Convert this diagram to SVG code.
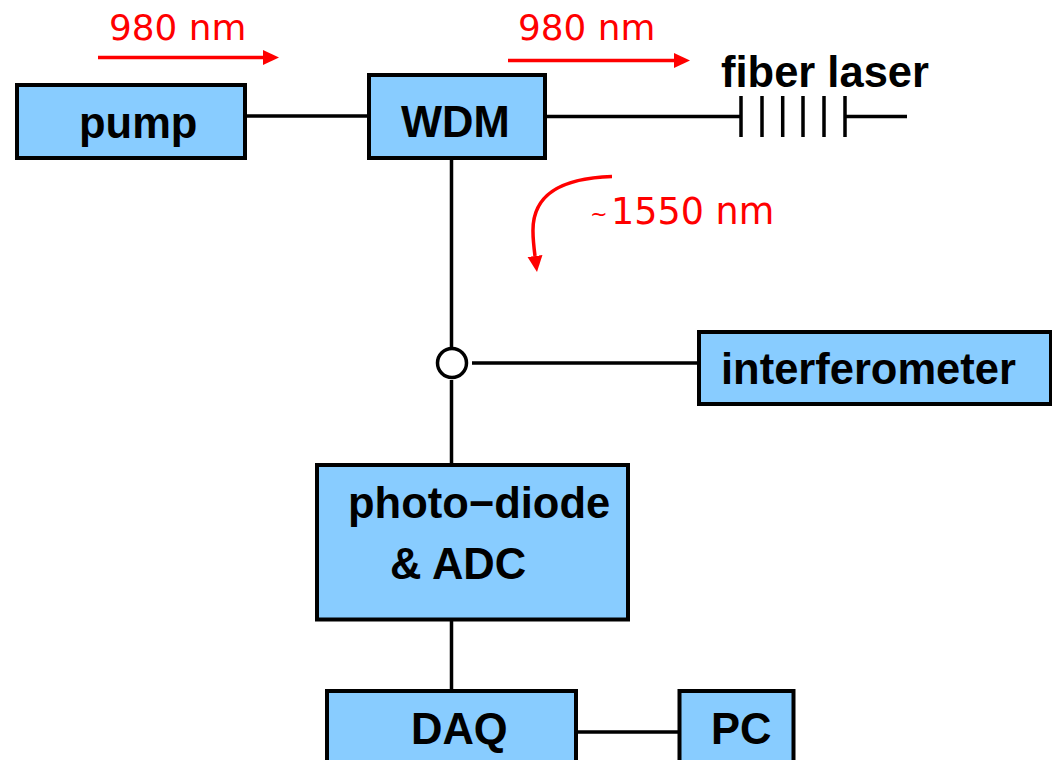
<svg xmlns="http://www.w3.org/2000/svg" width="1052" height="760" viewBox="0 0 1052 760">
<style>
.n{fill:#88ccff;stroke:#000;stroke-width:4}
.t{font-family:"Liberation Sans",Arial,sans-serif;font-weight:bold;font-size:43.500px;fill:#000}
.r{font-family:"DejaVu Sans",sans-serif;font-size:35.800px;fill:#f00}
.c{fill:none;stroke:#000;stroke-width:3.5}
.a{fill:none;stroke:#f00;stroke-width:3.5}
</style>
<defs><marker id="h" markerUnits="userSpaceOnUse" markerWidth="16" markerHeight="16" refX="0" refY="8" orient="auto"><path d="M0 0.500L16 8L0 15.500Z" fill="#f00"/></marker></defs>
<rect width="1052" height="760" fill="#fff"/>
<g id="connectors">
<path class="c" d="M245 116H369M545 116.500H741M451.500 158V348M451.500 380V465M472 363H699M451.500 620V691M577 732H680"/>
<path class="c" d="M741 96V137M762 96V137M782.700 96V137M803 96V137M824 96V137M845 96V137M845 116.500H907"/>
<circle cx="452" cy="363" r="14.500" fill="#fff" stroke="#000" stroke-width="3.500"/>
<path class="a" d="M98 57.500H263" marker-end="url(#h)"/>
<path class="a" d="M508 60.500H674" marker-end="url(#h)"/>
<path class="a" d="M612 176.500C565 178 532 192 533 232C533 240 534 248 535 256" marker-end="url(#h)"/>
</g>
<g id="pump"><rect class="n" x="17" y="85" width="228" height="73"/><text class="t" x="79" y="138">pump</text></g>
<g id="wdm"><rect class="n" x="369" y="75" width="176" height="83"/><text class="t" x="401" y="137">WDM</text></g>
<g id="fiber-laser"><text class="t" x="721" y="87">fiber laser</text></g>
<g id="interferometer"><rect class="n" x="699" y="332" width="352" height="72"/><text class="t" x="721" y="384">interferometer</text></g>
<g id="photodiode"><rect class="n" x="317" y="465" width="311" height="154.500"/><text class="t" x="348" y="518">photo−diode</text><text class="t" x="390" y="579">&amp; ADC</text></g>
<g id="daq"><rect class="n" x="327" y="691" width="249" height="80"/><text class="t" x="411" y="744">DAQ</text></g>
<g id="pc"><rect class="n" x="679.500" y="691" width="114" height="80"/><text class="t" x="711" y="744">PC</text></g>
<g id="labels">
<text class="r" x="109" y="40">980 nm</text>
<text class="r" x="518" y="40">980 nm</text>
<text class="r" x="590" y="224"><tspan font-size="21" dy="-3">~</tspan><tspan x="611" dy="3" font-size="36.500">1550 nm</tspan></text>
</g>
</svg>
